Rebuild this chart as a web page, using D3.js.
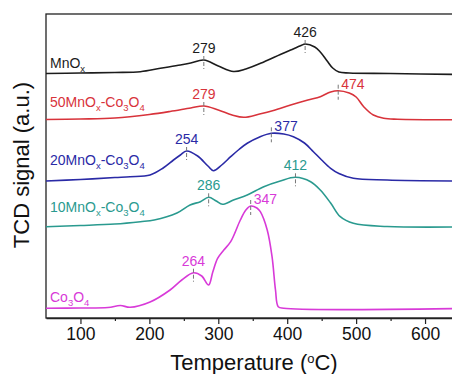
<!DOCTYPE html>
<html>
<head>
<meta charset="utf-8">
<script src="https://cdn.jsdelivr.net/npm/d3@7/dist/d3.min.js"></script>
<style>
  html, body { margin: 0; padding: 0; background: #fff; }
  svg { display: block; font-family: "Liberation Sans", Arial, sans-serif; }
</style>
</head>
<body>
<svg id="chart" width="452" height="374"></svg>
<script>
// H2-TPR traces: temperature (°C) and TCD signal (a.u., stacked with offsets)
const tMnOx   = [50,100,150,187,216,245,260,279,300,322,340,366,390,405,420,426,440,448,458,466,475,490,550,650];
const sMnOx   = [244.5,245,245.5,246.3,249.7,253,255,258,252,246.5,249,256,263.5,268,272.5,274,271,266,257,250,246,245,244.5,243.5];

const t50     = [50,100,150,200,230,260,279,300,320,337,360,380,405,430,448,463,474,490,500,511,525,540,560,650];
const s50     = [198.5,199,200,203.5,206.5,210,212,208,203,200.7,204,207.5,213,218,221.3,226,227.3,225,221,211.3,203,199.7,198.7,198.2];

const t20     = [50,100,150,172,201,220,235,245,254,270,285,293,305,318,330,342,360,377,395,409,425,438,450,463,475,496,545,650];
const s20     = [137,138.5,140.5,141.3,143,150,158,163,167,162,152,147.3,153,161.3,168.5,174.7,181,184.7,184,181.3,175,166.3,158,149.7,144.5,139.7,138,137];

const t10     = [50,100,150,187,207,240,259,274,286,297,306,322,342,366,390,412,434,448,463,477,496,545,650];
const s10     = [91.3,92.5,94,96.3,98,105,113,116.3,120.7,117,113.7,118,123,131.3,137,140.7,136.3,128,115,101.3,94.7,91.5,91];

const tCo     = [50,100,140,158,172,201,230,247,264,276,286,292,299,308,318,332,340,347,356,361,371,378,383,387,395,650];
const sCo     = [9.7,10,10.5,12.5,10.7,16,28,38,45.3,42,33,46,59.7,68,76.3,98,108,112,110,106.3,88,61.3,28,11.3,9.7,9.5];

const seriesNames  = ["MnOx", "50MnOx-Co3O4", "20MnOx-Co3O4", "10MnOx-Co3O4", "Co3O4"];
const seriesColors = ["#1c1c1c", "#d8333b", "#2a2aa6", "#2a9a8f", "#d83ad8"];

// Labelled reduction peaks: series index, temperature, text
const peakSeries = [0, 0, 1, 1, 2, 2, 3, 3, 4, 4];
const peakTemps  = [279, 426, 279, 474, 254, 377, 286, 412, 264, 347];
const peakSide   = ["top","top","top","right","top","right","top","top","top","right"];

const xTicks = [100, 200, 300, 400, 500, 600];
const xMinor = [150, 250, 350, 450, 550];

const series = [
  {t: tMnOx, s: sMnOx}, {t: t50, s: s50}, {t: t20, s: s20}, {t: t10, s: s10}, {t: tCo, s: sCo}
];

const svg = d3.select("#chart");
const plotLeft = 46, plotTop = 14, plotBottom = 318;
const x = d3.scaleLinear().domain([50, 650]).range([plotLeft, 459.5]);
const y = d3.scaleLinear().domain([0, 304]).range([plotBottom, plotTop]);

// frame (right edge falls outside the canvas)
svg.append("rect")
  .attr("x", plotLeft).attr("y", plotTop)
  .attr("width", x(650) - plotLeft).attr("height", plotBottom - plotTop)
  .attr("fill", "none").attr("stroke", "#222").attr("stroke-width", 1.3);

// bottom axis
const xAxis = d3.axisBottom(x).tickValues(xTicks).tickSize(6).tickSizeOuter(0).tickPadding(4);
const gx = svg.append("g").attr("transform", `translate(0,${plotBottom})`).call(xAxis);
gx.select(".domain").attr("stroke", "#222").attr("stroke-width", 1.3);
gx.selectAll(".tick line").attr("stroke", "#222").attr("stroke-width", 1.2);
gx.selectAll(".tick text").attr("font-size", 17.5).attr("fill", "#111")
  .attr("font-family", "'Liberation Sans', Arial, sans-serif");
const gm = svg.append("g").attr("transform", `translate(0,${plotBottom})`)
  .call(d3.axisBottom(x).tickValues(xMinor).tickSize(3).tickFormat(""));
gm.select(".domain").remove();
gm.selectAll(".tick line").attr("stroke", "#222").attr("stroke-width", 1.2);

// curves
const line = d3.line().x(d => x(d[0])).y(d => y(d[1])).curve(d3.curveCatmullRom.alpha(0.5));
series.forEach((sr, i) => {
  const pts = sr.t.map((t, k) => [t, sr.s[k]]);
  svg.append("path").datum(pts)
    .attr("d", line)
    .attr("fill", "none")
    .attr("stroke", seriesColors[i])
    .attr("stroke-width", 1.6)
    .attr("stroke-linejoin", "round");
});

// series names with subscripts
const nameBaselines = [68, 107, 165, 211.7, 301.7];
function richText(sel, str) {
  // x/3/4 following an "O" (and 3 following "Co") are set as subscripts
  const parts = [];
  let buf = "";
  for (let k = 0; k < str.length; k++) {
    const c = str[k];
    const prev = str[k - 1];
    if (((c === "x" || c === "3" || c === "4") && prev === "O") || (c === "3" && prev === "o")) {
      if (buf) parts.push({txt: buf, sub: false});
      buf = "";
      parts.push({txt: c, sub: true});
    } else buf += c;
  }
  if (buf) parts.push({txt: buf, sub: false});
  let shifted = false;
  parts.forEach(p => {
    const ts = sel.append("tspan").text(p.txt);
    if (p.sub && !shifted) { ts.attr("dy", 4).attr("font-size", 9.5); shifted = true; }
    else if (p.sub) { ts.attr("font-size", 9.5); }
    else if (shifted) { ts.attr("dy", -4); shifted = false; }
  });
}
seriesNames.forEach((n, i) => {
  const t = svg.append("text")
    .attr("x", 50).attr("y", nameBaselines[i])
    .attr("fill", seriesColors[i])
    .attr("font-size", 14);
  richText(t, n);
});

// peak markers and values
peakTemps.forEach((pt, k) => {
  const si = peakSeries[k];
  const sr = series[si];
  const idx = sr.t.indexOf(pt);
  const px = x(pt), py = y(sr.s[idx]);
  const col = seriesColors[si];
  if (peakSide[k] === "top") {
    svg.append("line").attr("x1", px).attr("x2", px)
      .attr("y1", py - 4).attr("y2", py + 9)
      .attr("stroke", "#777").attr("stroke-width", 1).attr("stroke-dasharray", "4,2");
    svg.append("text").attr("x", px).attr("y", py - 7)
      .attr("text-anchor", "middle").attr("font-size", 14).attr("fill", col).text(pt);
  } else {
    svg.append("line").attr("x1", px).attr("x2", px)
      .attr("y1", py - 6).attr("y2", py + 9)
      .attr("stroke", "#777").attr("stroke-width", 1).attr("stroke-dasharray", "4,2");
    svg.append("text").attr("x", px + 3).attr("y", py - 2)
      .attr("text-anchor", "start").attr("font-size", 14).attr("fill", col).text(pt);
  }
});

// axis titles
svg.append("text")
  .attr("transform", `translate(29,165) rotate(-90)`)
  .attr("text-anchor", "middle").attr("font-size", 22).attr("fill", "#111")
  .text("TCD signal (a.u.)");
const xt = svg.append("text")
  .attr("x", 254).attr("y", 370)
  .attr("text-anchor", "middle").attr("font-size", 22).attr("fill", "#111");
xt.append("tspan").text("Temperature (");
xt.append("tspan").attr("dy", -7).attr("font-size", 13).text("o");
xt.append("tspan").attr("dy", 7).text("C)");
</script>
</body>
</html>
